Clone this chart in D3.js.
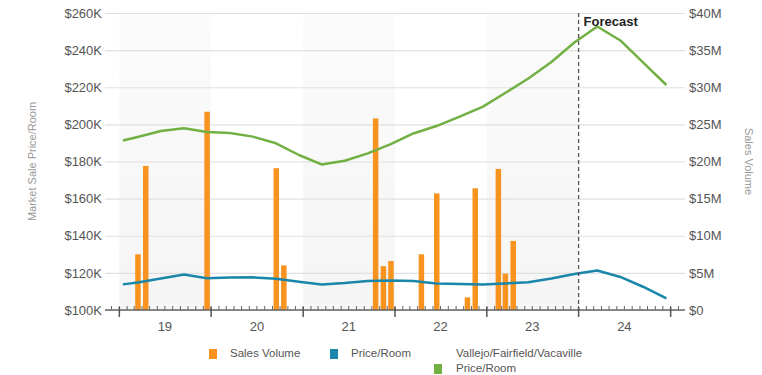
<!DOCTYPE html>
<html>
<head>
<meta charset="utf-8">
<script src="https://cdn.jsdelivr.net/npm/d3@7"></script>
<style>
  body { margin: 0; background: #fff; }
  svg { font-family: Arial, 'Liberation Sans', sans-serif; }
</style>
</head>
<body>
<div id="chart"></div>
<script>
// quarterly price/room series (first point mid-Jan 2019, then mid last month of each quarter)
const lineDates = ['2019-01-15', '2019-03-15', '2019-06-15', '2019-09-15', '2019-12-15',
  '2020-03-15', '2020-06-15', '2020-09-15', '2020-12-15',
  '2021-03-15', '2021-06-15', '2021-09-15', '2021-12-15',
  '2022-03-15', '2022-06-15', '2022-09-15', '2022-12-15',
  '2023-03-15', '2023-06-15', '2023-09-15', '2023-12-15',
  '2024-03-15', '2024-06-15', '2024-09-15', '2024-12-15']
const marketPrice = [191.3, 193.2, 196.4, 197.9, 195.9,
  195.3, 193.4, 189.8, 183.5,
  178.4, 180.4, 184.4, 189.4,
  195.1, 199.1, 204.2, 209.4,
  216.9, 224.7, 233.6, 244.1,
  252.7, 245.2, 233.1, 221.2]
const propertyPrice = [113.8, 114.8, 117.0, 119.1, 117.1,
  117.5, 117.6, 116.8, 115.2,
  113.8, 114.5, 115.6, 115.9,
  115.6, 114.3, 114.0, 113.7,
  114.3, 114.9, 117.0, 119.4,
  121.3, 117.8, 112.4, 106.2]

// monthly sales volume ($M)
const salesMonths = ['2019-03', '2019-04', '2019-12', '2020-09', '2020-10',
  '2021-10', '2021-11', '2021-12', '2022-04', '2022-06',
  '2022-10', '2022-11', '2023-02', '2023-03', '2023-04']
const salesVolume = [7.5, 19.4, 26.7, 19.1, 6.0,
  25.8, 5.9, 6.6, 7.5, 15.7,
  1.7, 16.4, 19.0, 4.9, 9.3]

const years = [2019, 2020, 2021, 2022, 2023, 2024]
const yearLabels = ['19', '20', '21', '22', '23', '24']
const leftTicks = [100, 120, 140, 160, 180, 200, 220, 240, 260]
const leftTickLabels = ['$100K', '$120K', '$140K', '$160K', '$180K', '$200K', '$220K', '$240K', '$260K']
const rightTicks = [0, 5, 10, 15, 20, 25, 30, 35, 40]
const rightTickLabels = ['$0', '$5M', '$10M', '$15M', '$20M', '$25M', '$30M', '$35M', '$40M']
const forecastDate = '2024-01-01'
const legendItems = ['Sales Volume', 'Price/Room', 'Vallejo/Fairfield/Vacaville|Price/Room']

const width = 762,
  height = 375,
  plotLeft = 105,
  plotRight = 685,
  plotTop = 13,
  plotBottom = 310,
  colors = {sales: '#f7931e', price: '#1a86a9', market: '#72b043'},
  parseDay = d3.timeParse('%Y-%m-%d'),
  parseMonth = d3.timeParse('%Y-%m')

const x = d3.scaleTime()
  .domain([parseDay('2018-11-05'), parseDay('2025-02-27')])
  .range([plotLeft, plotRight])
const yLeft = d3.scaleLinear().domain([100, 260]).range([plotBottom, plotTop])
const yRight = d3.scaleLinear().domain([0, 40]).range([plotBottom, plotTop])

const svg = d3.select('#chart').append('svg')
  .attr('width', width)
  .attr('height', height)

// alternating year bands
const grad = svg.append('defs').append('linearGradient')
  .attr('id', 'band').attr('x1', 0).attr('y1', 0).attr('x2', 0).attr('y2', 1)
grad.append('stop').attr('offset', '0%').attr('stop-color', '#fbfbfb')
grad.append('stop').attr('offset', '100%').attr('stop-color', '#f5f5f5')

svg.append('g').selectAll('rect')
  .data(years.filter((d, i) => i % 2 == 0))
  .enter().append('rect')
  .attr('x', d => x(new Date(d, 0, 1)))
  .attr('width', d => x(new Date(d + 1, 0, 1)) - x(new Date(d, 0, 1)))
  .attr('y', plotTop)
  .attr('height', plotBottom - plotTop)
  .attr('fill', 'url(#band)')

// left axis + gridlines
const leftAxis = svg.append('g')
  .attr('transform', `translate(${plotLeft},0)`)
  .call(d3.axisLeft(yLeft)
    .tickValues(leftTicks)
    .tickFormat((d, i) => leftTickLabels[i])
    .tickSize(-(plotRight - plotLeft))
    .tickPadding(3))
leftAxis.select('.domain').remove()
leftAxis.selectAll('line').attr('stroke', '#e0e0e0').attr('stroke-width', 1.2)
leftAxis.selectAll('text').attr('fill', '#555').style('font-size', '13px')

const rightAxis = svg.append('g')
  .attr('transform', `translate(${plotRight},0)`)
  .call(d3.axisRight(yRight)
    .tickValues(rightTicks)
    .tickFormat((d, i) => rightTickLabels[i])
    .tickSize(0)
    .tickPadding(4))
rightAxis.select('.domain').remove()
rightAxis.selectAll('text').attr('fill', '#555').style('font-size', '13px')

// axis titles
svg.append('text')
  .attr('transform', `translate(36,${(plotTop + plotBottom) / 2}) rotate(-90)`)
  .attr('text-anchor', 'middle')
  .attr('fill', '#999')
  .style('font-size', '11px')
  .text('Market Sale Price/Room')
svg.append('text')
  .attr('transform', `translate(745,${(plotTop + plotBottom) / 2}) rotate(90)`)
  .attr('text-anchor', 'middle')
  .attr('fill', '#999')
  .style('font-size', '11px')
  .text('Sales Volume')

// sales volume bars
const barW = 5.5
svg.append('g').selectAll('rect')
  .data(salesMonths.map((m, i) => ({date: parseMonth(m), value: salesVolume[i]})))
  .enter().append('rect')
  .attr('x', d => x(d3.timeDay.offset(d.date, 15)) - barW / 2)
  .attr('width', barW)
  .attr('y', d => yRight(d.value))
  .attr('height', d => plotBottom - yRight(d.value))
  .attr('fill', colors.sales)

// x axis
const xg = svg.append('g')
xg.append('line')
  .attr('x1', plotLeft).attr('x2', plotRight)
  .attr('y1', plotBottom).attr('y2', plotBottom)
  .attr('stroke', '#666').attr('stroke-width', 1.3)
xg.selectAll('.minor')
  .data(d3.timeMonth.range(x.domain()[0], x.domain()[1]))
  .enter().append('line')
  .attr('x1', d => x(d)).attr('x2', d => x(d))
  .attr('y1', plotBottom - 4).attr('y2', plotBottom)
  .attr('stroke', '#666')
xg.selectAll('.major')
  .data(years.concat([2025]))
  .enter().append('line')
  .attr('x1', d => x(new Date(d, 0, 1))).attr('x2', d => x(new Date(d, 0, 1)))
  .attr('y1', plotBottom - 3).attr('y2', plotBottom + 7)
  .attr('stroke', '#555').attr('stroke-width', 1.5)
xg.selectAll('text')
  .data(years)
  .enter().append('text')
  .attr('x', d => x(new Date(d, 6, 1)))
  .attr('y', plotBottom + 21)
  .attr('text-anchor', 'middle')
  .attr('fill', '#555')
  .style('font-size', '13px')
  .text((d, i) => yearLabels[i])

// lines
const lineData = lineDates.map((d, i) => ({date: parseDay(d), market: marketPrice[i], price: propertyPrice[i]}))
const line = key => d3.line()
  .x(d => x(d.date))
  .y(d => yLeft(d[key]))

svg.append('path')
  .datum(lineData)
  .attr('d', line('market'))
  .attr('fill', 'none')
  .attr('stroke', colors.market)
  .attr('stroke-width', 2.5)
  .attr('stroke-linejoin', 'round')
svg.append('path')
  .datum(lineData)
  .attr('d', line('price'))
  .attr('fill', 'none')
  .attr('stroke', colors.price)
  .attr('stroke-width', 2.5)
  .attr('stroke-linejoin', 'round')

// forecast marker
const fx = x(parseDay(forecastDate))
svg.append('line')
  .attr('x1', fx).attr('x2', fx)
  .attr('y1', plotTop).attr('y2', plotBottom)
  .attr('stroke', '#555')
  .attr('stroke-width', 1.3)
  .attr('stroke-dasharray', '4,3')
svg.append('text')
  .attr('x', fx + 5)
  .attr('y', plotTop + 13)
  .attr('fill', '#222')
  .style('font-size', '13px')
  .style('font-weight', 'bold')
  .text('Forecast')

// legend
const legendX = [209, 330, 434],
  legendColors = [colors.sales, colors.price, colors.market]
const legend = svg.append('g').selectAll('g')
  .data(legendItems)
  .enter().append('g')
  .attr('transform', (d, i) => `translate(${legendX[i]},0)`)
legend.append('rect')
  .attr('x', 0)
  .attr('y', (d, i) => i == 2 ? 364 : 349)
  .attr('width', 8)
  .attr('height', 10)
  .attr('fill', (d, i) => legendColors[i])
legend.each(function(d) {
  const lines = d.split('|')
  d3.select(this).selectAll('text')
    .data(lines)
    .enter().append('text')
    .attr('x', lines.length > 1 ? 22 : 21)
    .attr('y', (t, j) => 357 + j * 15)
    .attr('fill', '#555')
    .style('font-size', '11.5px')
    .text(t => t)
})
</script>
</body>
</html>
